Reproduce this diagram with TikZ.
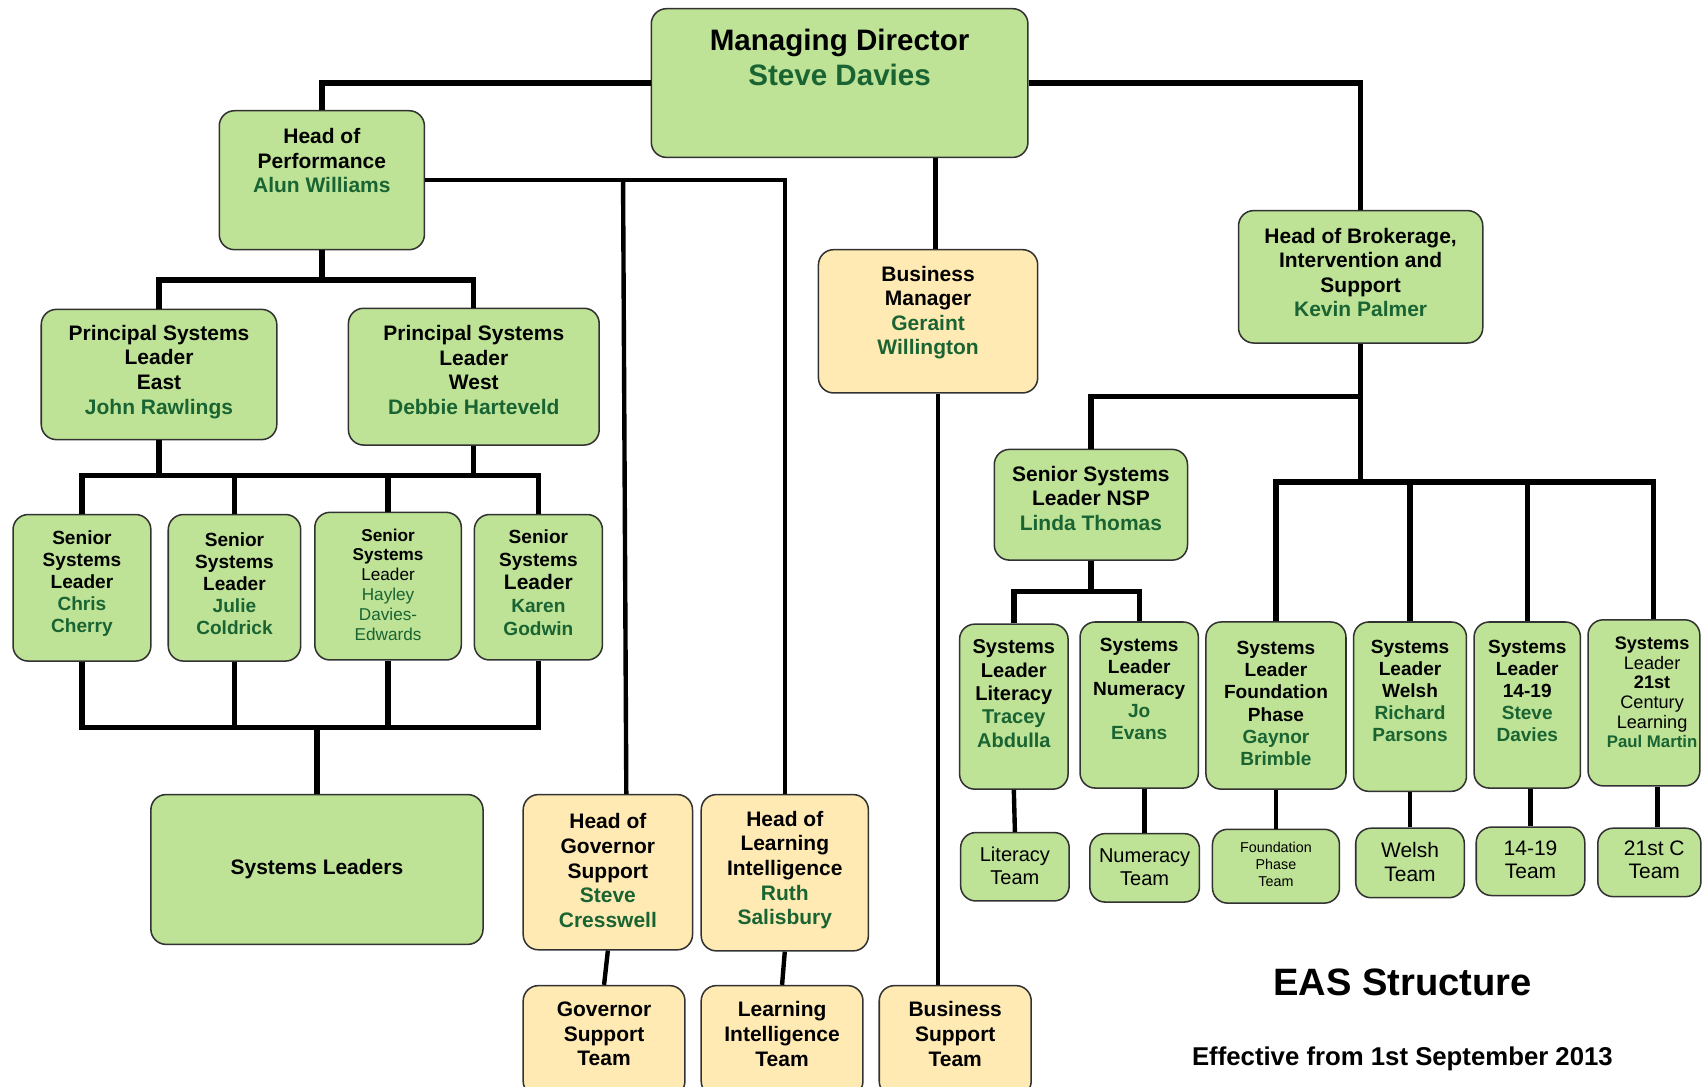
\documentclass[tikz,border=0pt]{standalone}
\usepackage{fontspec}
\setmainfont{Liberation Sans}
\definecolor{boxgreen}{RGB}{190,226,150}
\definecolor{boxyellow}{RGB}{255,234,180}
\definecolor{namegreen}{RGB}{25,100,50}
\definecolor{rim}{RGB}{50,50,50}
\newcommand{\nm}[1]{\textcolor{namegreen}{#1}}
\newcommand{\fs}[2]{\fontsize{#1}{#2}\selectfont}
\tikzset{
	gbox/.style={draw=rim,line width=0.8pt,fill=boxgreen,rounded corners=0.28cm,inner sep=0pt},
	ybox/.style={gbox,fill=boxyellow},
	txt/.style={align=center,inner sep=0pt,font=\bfseries\fs{11}{12.9}},
	small/.style={txt,font=\bfseries\fs{10}{11.6}},
	team/.style={txt,font=\fs{10.5}{12}},
	link/.style={line width=2.8pt},
	midlink/.style={line width=2.3pt},
	thinlink/.style={line width=1.8pt}
}
\begin{document}
\begin{tikzpicture}
	\useasboundingbox (0,0) rectangle (31.36,-20.02);
	\clip (0,0) rectangle (31.36,-20.02);
	% boxes
	\node[gbox,minimum width=6.94cm,minimum height=2.74cm] (md) at (15.47,-1.53) {};
	\node[txt,font=\bfseries\fs{15.5}{18.2}] (md-t) at (15.47,-1.06) {Managing Director\\\nm{Steve Davies}};
	\node[gbox,minimum width=3.78cm,minimum height=2.56cm] (hop) at (5.93,-3.32) {};
	\node[txt] (hop-t) at (5.93,-2.96) {Head of\\Performance\\\nm{Alun Williams}};
	\node[gbox,minimum width=4.34cm,minimum height=2.40cm] (pse) at (2.93,-6.90) {};
	\node[txt] (pse-t) at (2.93,-6.85) {Principal Systems\\Leader\\East\\\nm{John Rawlings}};
	\node[gbox,minimum width=4.62cm,minimum height=2.52cm] (psw) at (8.73,-6.94) {};
	\node[txt] (psw-t) at (8.73,-6.82) {Principal Systems\\Leader\\West\\\nm{Debbie Harteveld}};
	\node[gbox,minimum width=2.54cm,minimum height=2.70cm] (ssl1) at (1.51,-10.83) {};
	\node[small] (ssl1-t) at (1.51,-10.75) {Senior\\Systems\\Leader\\\nm{Chris}\\\nm{Cherry}};
	\node[gbox,minimum width=2.44cm,minimum height=2.70cm] (ssl2) at (4.32,-10.83) {};
	\node[small] (ssl2-t) at (4.32,-10.75) {Senior\\Systems\\Leader\\\nm{Julie}\\\nm{Coldrick}};
	\node[gbox,minimum width=2.70cm,minimum height=2.72cm] (ssl3) at (7.15,-10.80) {};
	\node[txt,font=\fs{9}{10.4}] (ssl3-t) at (7.15,-10.77) {\textbf{Senior}\\\textbf{Systems}\\Leader\\\nm{Hayley}\\\nm{Davies-}\\\nm{Edwards}};
	\node[gbox,minimum width=2.36cm,minimum height=2.68cm] (ssl4) at (9.92,-10.82) {};
	\node[small,font=\bfseries\fs{10}{12}] (ssl4-t) at (9.92,-10.74) {Senior\\Systems\\{\fs{11}{12}Leader}\\\nm{Karen}\\\nm{Godwin}};
	\node[gbox,minimum width=6.12cm,minimum height=2.76cm] (sl) at (5.84,-16.02) {};
	\node[txt] (sl-t) at (5.84,-16.02) {Systems Leaders};
	\node[ybox,minimum width=3.12cm,minimum height=2.86cm] (hogs) at (11.20,-16.07) {};
	\node[txt] (hogs-t) at (11.20,-16.04) {Head of\\Governor\\Support\\\nm{Steve}\\\nm{Cresswell}};
	\node[ybox,minimum width=3.08cm,minimum height=2.88cm] (holi) at (14.46,-16.08) {};
	\node[txt] (holi-t) at (14.46,-16.03) {Head of\\Learning\\Intelligence\\\nm{Ruth}\\\nm{Salisbury}};
	\node[ybox,minimum width=2.98cm,minimum height=2.04cm] (gst) at (11.13,-19.18) {};
	\node[txt] (gst-t) at (11.13,-19.05) {Governor\\Support\\Team};
	\node[ybox,minimum width=2.98cm,minimum height=2.04cm] (lit) at (14.41,-19.18) {};
	\node[txt] (lit-t) at (14.41,-19.05) {Learning\\Intelligence\\Team};
	\node[ybox,minimum width=2.80cm,minimum height=2.04cm] (bst) at (17.60,-19.18) {};
	\node[txt] (bst-t) at (17.60,-19.05) {Business\\Support\\Team};
	\node[ybox,minimum width=4.04cm,minimum height=2.64cm] (bm) at (17.10,-5.92) {};
	\node[txt] (bm-t) at (17.10,-5.76) {Business\\Manager\\\nm{Geraint}\\\nm{Willington}};
	\node[gbox,minimum width=4.50cm,minimum height=2.44cm] (hob) at (25.07,-5.10) {};
	\node[txt] (hob-t) at (25.07,-5.02) {Head of Brokerage,\\Intervention and\\Support\\\nm{Kevin Palmer}};
	\node[gbox,minimum width=3.56cm,minimum height=2.04cm] (nsp) at (20.10,-9.30) {};
	\node[txt] (nsp-t) at (20.10,-9.18) {Senior Systems\\Leader NSP\\\nm{Linda Thomas}};
	\node[gbox,minimum width=2.00cm,minimum height=3.04cm] (sllit) at (18.68,-13.02) {};
	\node[small,font=\bfseries\fs{10.5}{12.2}] (sllit-t) at (18.68,-12.78) {Systems\\Leader\\Literacy\\\nm{Tracey}\\\nm{Abdulla}};
	\node[gbox,minimum width=2.18cm,minimum height=3.06cm] (slnum) at (20.99,-12.99) {};
	\node[small] (slnum-t) at (20.99,-12.69) {Systems\\Leader\\Numeracy\\\nm{Jo}\\\nm{Evans}};
	\node[gbox,minimum width=2.58cm,minimum height=3.08cm] (slf) at (23.51,-13.00) {};
	\node[small] (slf-t) at (23.51,-12.96) {Systems\\Leader\\Foundation\\Phase\\\nm{Gaynor}\\\nm{Brimble}};
	\node[gbox,minimum width=2.08cm,minimum height=3.12cm] (slw) at (25.98,-13.02) {};
	\node[small] (slw-t) at (25.98,-12.73) {Systems\\Leader\\Welsh\\\nm{Richard}\\\nm{Parsons}};
	\node[gbox,minimum width=1.96cm,minimum height=3.06cm] (sl1419) at (28.14,-12.99) {};
	\node[small] (sl1419-t) at (28.14,-12.73) {Systems\\Leader\\14-19\\\nm{Steve}\\\nm{Davies}};
	\node[gbox,minimum width=2.06cm,minimum height=3.06cm] (sl21) at (30.29,-12.95) {};
	\node[txt,font=\fs{9.5}{10.3}] (sl21-t) at (30.44,-12.76) {\textbf{Systems}\\Leader\\\textbf{21st}\\Century\\Learning\\{\bfseries\fs{8.8}{10.3}\nm{Paul Martin}}};
	\node[gbox,minimum width=2.00cm,minimum height=1.26cm] (tlit) at (18.70,-15.97) {};
	\node[team] (tlit-t) at (18.70,-15.95) {Literacy\\Team};
	\node[gbox,minimum width=2.02cm,minimum height=1.26cm] (tnum) at (21.09,-15.99) {};
	\node[team] (tnum-t) at (21.09,-15.97) {Numeracy\\Team};
	\node[gbox,minimum width=2.34cm,minimum height=1.36cm] (tf) at (23.51,-15.96) {};
	\node[team,font=\fs{7.5}{8.8}] (tf-t) at (23.51,-15.93) {Foundation\\Phase\\Team};
	\node[gbox,minimum width=2.00cm,minimum height=1.28cm] (tw) at (25.98,-15.90) {};
	\node[team,font=\fs{11}{12.4}] (tw-t) at (25.98,-15.88) {Welsh\\Team};
	\node[gbox,minimum width=2.00cm,minimum height=1.26cm] (t1419) at (28.20,-15.87) {};
	\node[team,font=\fs{11}{12.4}] (t1419-t) at (28.20,-15.84) {14-19\\Team};
	\node[gbox,minimum width=1.90cm,minimum height=1.26cm] (t21) at (30.39,-15.89) {};
	\node[team,font=\fs{11}{12.4}] (t21-t) at (30.48,-15.84) {21st C\\Team};
	\node[font=\bfseries\fs{20}{24}] (title) at (25.84,-18.10) {EAS Structure};
	\node[font=\bfseries\fs{13.5}{16}] (date) at (25.84,-19.50) {Effective from 1st September 2013};
	% connectors
	\draw[link] (md.west) -| (hop.north);
	\draw[link] (md.east) -| (hob.north);
	\draw[midlink] (17.24,0 |- md.south) -- (17.24,0 |- bm.north);
	\draw[thinlink] (17.28,0 |- bm.south) -- (17.28,0 |- bst.north);
	\draw[midlink] (hop.east) -| (holi.north);
	\draw[midlink] (11.48,0 |- hop.east) -- (11.54,0 |- hogs.north);
	\draw[link] (hop.south) -- (hop.south |- 0,-5.16);
	\draw[link] (pse.north) |- (psw.north |- 0,-5.16) -- (psw.north);
	\draw[link] (ssl1.north) |- (ssl4.north |- 0,-8.76) -- (ssl4.north);
	\draw[link] (ssl2.north) -- (ssl2.north |- 0,-8.76);
	\draw[link] (ssl3.north) -- (ssl3.north |- 0,-8.76);
	\draw[link] (pse.south) -- (pse.south |- 0,-8.76);
	\draw[link] (psw.south) -- (psw.south |- 0,-8.76);
	\draw[link] (ssl1.south) |- (ssl4.south |- 0,-13.40) -- (ssl4.south);
	\draw[link] (ssl2.south) -- (ssl2.south |- 0,-13.40);
	\draw[link] (ssl3.south) -- (ssl3.south |- 0,-13.40);
	\draw[link] (sl.north) -- (sl.north |- 0,-13.40);
	\draw[midlink] (hogs.south) -- (gst.north);
	\draw[midlink] (holi.south) -- (lit.north);
	\draw[link] (hob.south) -- (hob.south |- 0,-8.88);
	\draw[link] (hob.south |- 0,-7.30) -| (nsp.north);
	\draw[link] (slf.north) |- (30.46,-8.88) -- (30.46,0 |- sl21.north);
	\draw[link] (slw.north) -- (slw.north |- 0,-8.88);
	\draw[link] (sl1419.north) -- (sl1419.north |- 0,-8.88);
	\draw[link] (nsp.south) -- (nsp.south |- 0,-10.90);
	\draw[link] (sllit.north) |- (slnum.north |- 0,-10.90) -- (slnum.north);
	\draw[midlink] (sllit.south) -- (tlit.north);
	\draw[midlink] (tnum.north |- slnum.south) -- (tnum.north);
	\draw[midlink] (slf.south) -- (tf.north);
	\draw[midlink] (slw.south) -- (tw.north);
	\draw[midlink] (t1419.north |- sl1419.south) -- (t1419.north);
	\draw[midlink] (30.54,0 |- sl21.south) -- (30.54,0 |- t21.north);
\end{tikzpicture}
\end{document}
